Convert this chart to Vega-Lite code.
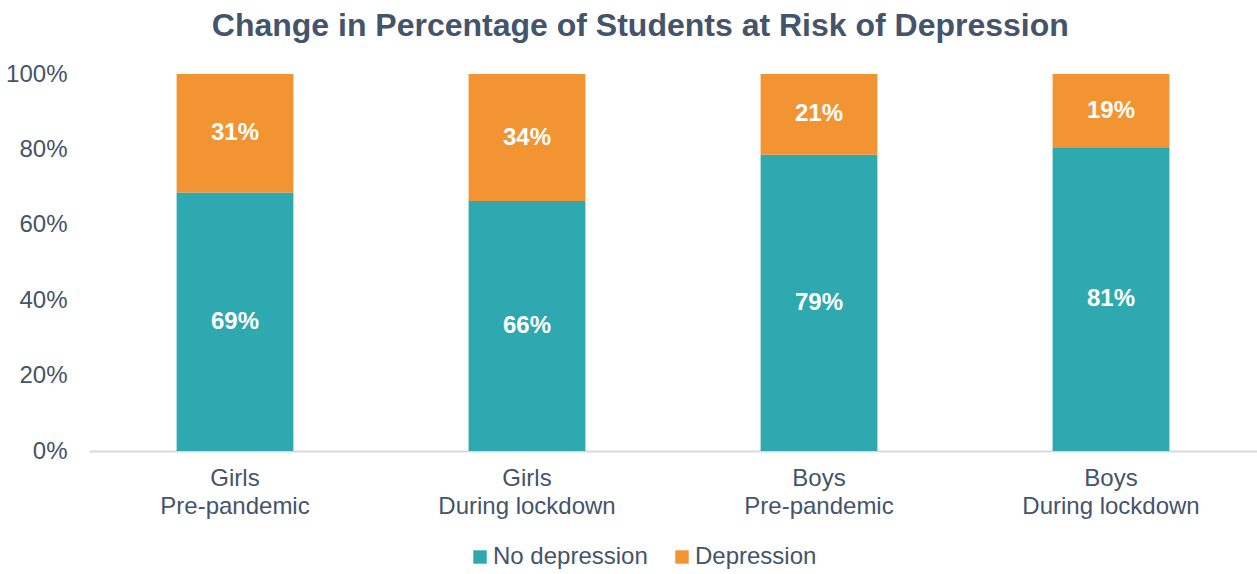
{
  "$schema": "https://vega.github.io/schema/vega-lite/v6.json",
  "autosize": "none",
  "width": 1168,
  "height": 377,
  "padding": {"left": 89, "top": 74, "right": 0, "bottom": 123},
  "background": "white",
  "title": {
    "text": "Change in Percentage of Students at Risk of Depression",
    "font": "Liberation Sans",
    "fontSize": 32,
    "fontWeight": "bold",
    "color": "#44546A",
    "anchor": "middle",
    "frame": "bounds",
    "offset": 19,
    "dx": 9
  },
  "config": {
    "view": {"stroke": null},
    "font": "Liberation Sans"
  },
  "data": {
    "values": [
      {"group": "Girls|Pre-pandemic", "status": "No depression", "value": 0.686},
      {"group": "Girls|Pre-pandemic", "status": "Depression", "value": 0.314},
      {"group": "Girls|During lockdown", "status": "No depression", "value": 0.663},
      {"group": "Girls|During lockdown", "status": "Depression", "value": 0.337},
      {"group": "Boys|Pre-pandemic", "status": "No depression", "value": 0.786},
      {"group": "Boys|Pre-pandemic", "status": "Depression", "value": 0.214},
      {"group": "Boys|During lockdown", "status": "No depression", "value": 0.806},
      {"group": "Boys|During lockdown", "status": "Depression", "value": 0.194}
    ]
  },
  "transform": [
    {"stack": "value", "groupby": ["group"], "sort": [{"field": "status", "order": "descending"}], "as": ["y0", "y1"]},
    {"calculate": "(datum.y0 + datum.y1) / 2", "as": "mid"}
  ],
  "encoding": {
    "x": {
      "field": "group",
      "type": "nominal",
      "sort": ["Girls|Pre-pandemic", "Girls|During lockdown", "Boys|Pre-pandemic", "Boys|During lockdown"],
      "scale": {"paddingInner": 0.6, "paddingOuter": 0.3},
      "axis": {
        "title": null,
        "labelAngle": 0,
        "labelExpr": "split(datum.value, '|')",
        "labelFont": "Liberation Sans",
        "labelFontSize": 24,
        "labelColor": "#44546A",
        "labelLineHeight": 28,
        "labelPadding": 15,
        "labelBaseline": "top",
        "ticks": false,
        "domainColor": "#D9D9D9",
        "domainWidth": 2
      }
    }
  },
  "layer": [
    {
      "mark": {"type": "bar"},
      "encoding": {
        "y": {
          "field": "y0",
          "type": "quantitative",
          "scale": {"domain": [0, 1]},
          "axis": {
            "title": null,
            "format": ".0%",
            "values": [0, 0.2, 0.4, 0.6, 0.8, 1.0],
            "labelOverlap": false,
            "grid": false,
            "domain": false,
            "ticks": false,
            "labelPadding": 22,
            "labelFont": "Liberation Sans",
            "labelFontSize": 24,
            "labelColor": "#44546A"
          }
        },
        "y2": {"field": "y1"},
        "color": {
          "field": "status",
          "type": "nominal",
          "scale": {"domain": ["No depression", "Depression"], "range": ["#2EA9B0", "#F29431"]},
          "legend": {
            "title": null,
            "orient": "none",
            "direction": "horizontal",
            "legendX": 379,
            "legendY": 471,
            "symbolType": "square",
            "symbolSize": 180,
            "symbolStrokeWidth": 0,
            "symbolOpacity": 1,
            "labelFont": "Liberation Sans",
            "labelFontSize": 24,
            "labelColor": "#44546A",
            "labelOffset": 1,
            "columnPadding": 22
          }
        }
      }
    },
    {
      "mark": {"type": "text", "color": "white", "fontWeight": "bold", "fontSize": 24, "font": "Liberation Sans", "baseline": "middle"},
      "encoding": {
        "y": {"field": "mid", "type": "quantitative"},
        "text": {"field": "value", "type": "quantitative", "format": ".0%"}
      }
    }
  ]
}
